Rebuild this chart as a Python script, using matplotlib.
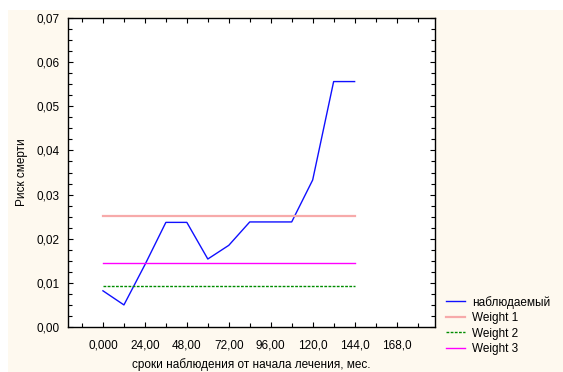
import matplotlib
matplotlib.use("Agg")
import matplotlib.pyplot as plt
from matplotlib.patches import Rectangle
from matplotlib.ticker import MultipleLocator, FixedLocator, FixedFormatter

plt.rcParams["font.family"] = ["Liberation Sans", "DejaVu Sans"]

# ── Data ───────────────────────────────────────────────────────────────────
months   = [0, 12, 24, 36, 48, 60, 72, 84, 96, 108, 120, 132, 144]
observed = [0.0082, 0.0050, 0.0141, 0.0237, 0.0237, 0.0154, 0.0185,
            0.0238, 0.0238, 0.0238, 0.0333, 0.0556, 0.0556]

weight_x = [0, 144]
weight1  = 0.0252
weight2  = 0.0094
weight3  = 0.0145

x_ticks  = [0, 24, 48, 72, 96, 120, 144, 168]
x_labels = ["0,000", "24,00", "48,00", "72,00", "96,00", "120,0", "144,0", "168,0"]
y_ticks  = [0.00, 0.01, 0.02, 0.03, 0.04, 0.05, 0.06, 0.07]
y_labels = ["0,00", "0,01", "0,02", "0,03", "0,04", "0,05", "0,06", "0,07"]

# ── Figure ─────────────────────────────────────────────────────────────────
fig = plt.figure(figsize=(5.63, 3.72), dpi=100)
fig.patch.set_facecolor("white")
fig.patches.append(Rectangle((8 / 563, 0), 1, 1 - 10 / 372,
                             transform=fig.transFigure,
                             facecolor="#fef9ef", edgecolor="none", zorder=-1))

ax = fig.add_axes([68 / 563, 45 / 372, 367 / 563, 309 / 372])
ax.set_facecolor("white")

ax.plot(months, observed, color="#1010ff", lw=1.0, label="наблюдаемый")
ax.plot(weight_x, [weight1, weight1], color="#f7aaaa", lw=1.6, label="Weight 1")
ax.plot(weight_x, [weight2, weight2], color="#008c00", lw=1.0,
        ls=(0, (2, 1)), label="Weight 2")
ax.plot(weight_x, [weight3, weight3], color="#ff00ff", lw=1.0, label="Weight 3")

ax.set_xlim(-20, 190)
ax.set_ylim(0, 0.07)

ax.xaxis.set_major_locator(FixedLocator(x_ticks))
ax.xaxis.set_major_formatter(FixedFormatter(x_labels))
ax.xaxis.set_minor_locator(MultipleLocator(12))
ax.yaxis.set_major_locator(FixedLocator(y_ticks))
ax.yaxis.set_major_formatter(FixedFormatter(y_labels))
ax.yaxis.set_minor_locator(MultipleLocator(0.0025))

ax.tick_params(which="both", direction="in", top=True, right=True,
               labelsize=8.5, length=3.5, width=0.8, colors="black")
ax.tick_params(axis="x", pad=9)
ax.tick_params(axis="y", pad=6)
ax.tick_params(which="minor", length=3)
for sp in ax.spines.values():
    sp.set_linewidth(1.0)

ax.set_xlabel("сроки наблюдения от начала лечения, мес.", fontsize=8.5, labelpad=5)
ax.set_ylabel("Риск смерти", fontsize=8.5, labelpad=6)

ax.legend(loc="upper left", bbox_to_anchor=(1.018, 0.117), frameon=False,
          fontsize=8.5, handlelength=1.6, handletextpad=0.6, labelspacing=0.3,
          borderaxespad=0)

plt.savefig("out.png", dpi=100, facecolor=fig.get_facecolor())
